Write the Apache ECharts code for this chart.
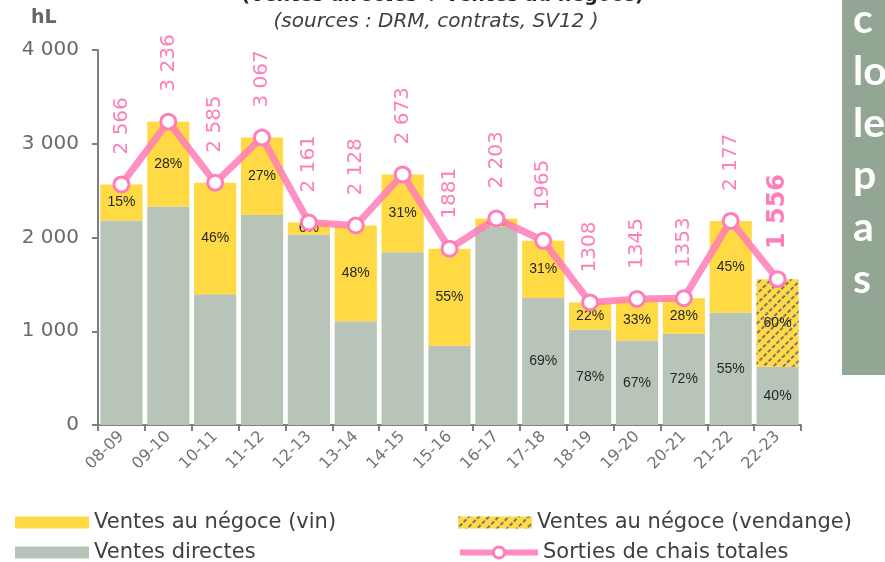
<!DOCTYPE html>
<html>
<head>
<meta charset="utf-8">
<script src="https://cdn.jsdelivr.net/npm/echarts@6/dist/echarts.min.js"></script>
<style>html,body{margin:0;padding:0;background:#fff;}#c{width:885px;height:562px;}</style>
</head>
<body>
<div id="c"></div>
<script>
const categories = ['08-09','09-10','10-11','11-12','12-13','13-14','14-15','15-16','16-17','17-18','18-19','19-20','20-21','21-22','22-23'];
const totals = [2566,3236,2585,3067,2161,2128,2673,1881,2203,1965,1308,1345,1353,2177,1556];
const totalLabels = ['2 566','3 236','2 585','3 067','2 161','2 128','2 673','1881','2 203','1965','1308','1345','1353','2 177','1 556'];
const directes = [2181,2330,1396,2239,2031,1107,1844,846,2115,1356,1020,901,974,1197,622];
const negoceVin = [385,906,1189,828,130,1021,829,1035,88,609,288,444,379,980,null];
const negoceVendange = [null,null,null,null,null,null,null,null,null,null,null,null,null,null,934];
const negocePct = ['15%','28%','46%','27%','6%','48%','31%','55%','4%','31%','22%','33%','28%','45%',''];
const vendangePct = ['','','','','','','','','','','','','','','60%'];
const directesPct = ['','','','','','','','','','69%','78%','67%','72%','55%','40%'];
const yTicks = ['0','1 000','2 000','3 000','4 000'];

const pink = '#FF7DB8';
const wide = 'DejaVu Sans, Verdana, sans-serif';
const pctLabel = (arr) => ({
  show: true, position: 'inside',
  fontFamily: 'Liberation Sans Narrow, Liberation Sans, sans-serif',
  fontSize: 14, color: '#262626',
  formatter: p => arr[p.dataIndex] || ''
});
const legendText = { fontSize: 21, color: '#404040', fontFamily: wide };

const chart = echarts.init(document.getElementById('c'));
chart.setOption({
  animation: false,
  textStyle: { fontFamily: wide },
  grid: { left: 98, right: 84, top: 50, bottom: 137, containLabel: false },
  xAxis: {
    type: 'category', data: categories,
    axisLine: { lineStyle: { color: '#7f7f7f', width: 2 } },
    axisTick: { show: true, length: 6, lineStyle: { color: '#7f7f7f', width: 2 } },
    axisLabel: { rotate: 45, fontSize: 16, color: '#737373', margin: 9, fontFamily: wide }
  },
  yAxis: {
    type: 'value', min: 0, max: 4000, interval: 1000,
    axisLine: { show: true, lineStyle: { color: '#7f7f7f', width: 2 } },
    axisTick: { show: true, length: 6, lineStyle: { color: '#7f7f7f', width: 2 } },
    splitLine: { show: false },
    axisLabel: { fontSize: 20, color: '#6a6a6a', margin: 19, fontFamily: wide, formatter: (v) => yTicks[Math.round(v/1000)] }
  },
  legend: [
    { data: ['Ventes au négoce (vin)'], icon: 'rect', left: 10, top: 507, itemWidth: 74, itemHeight: 12, itemGap: 8, textStyle: legendText },
    { data: ['Ventes au négoce (vendange)'], icon: 'rect', left: 453, top: 507, itemWidth: 74, itemHeight: 12, textStyle: legendText },
    { data: ['Ventes directes'], icon: 'rect', left: 10, top: 537, itemWidth: 74, itemHeight: 12, textStyle: legendText },
    { data: ['Sorties de chais totales'], left: 452, top: 537, itemWidth: 78, itemHeight: 14, textStyle: legendText,
      lineStyle: { width: 6, color: pink, opacity: 0.9 }, itemStyle: { color: '#ffffff', borderColor: pink, borderWidth: 3 } }
  ],
  series: [
    { name: 'Ventes directes', type: 'bar', stack: 's', data: directes, barCategoryGap: '10%',
      itemStyle: { color: '#B9C4B8' }, label: pctLabel(directesPct) },
    { name: 'Ventes au négoce (vin)', type: 'bar', stack: 's', data: negoceVin,
      itemStyle: { color: '#FFDA45' }, label: pctLabel(negocePct) },
    { name: 'Ventes au négoce (vendange)', type: 'bar', stack: 's', data: negoceVendange,
      itemStyle: { color: '#FFDA45', decal: { symbol: 'rect', color: 'rgba(100,100,125,0.85)', dashArrayX: [[4,2]], dashArrayY: [1.6,5], rotation: -Math.PI/4 } },
      label: pctLabel(vendangePct) },
    { name: 'Sorties de chais totales', type: 'line', data: totals.map((v,i)=> i===14 ? { value: v, label: { fontSize: 24, fontWeight: 'bold' } } : v),
      z: 5,
      lineStyle: { color: pink, width: 7, opacity: 0.85 },
      itemStyle: { color: '#ffffff', borderColor: pink, borderWidth: 3 },
      symbol: 'circle', symbolSize: 15,
      label: { show: true, position: 'top', distance: 21, rotate: 90, align: 'left', verticalAlign: 'middle',
        color: pink, fontSize: 20, fontWeight: 'normal', fontFamily: wide,
        formatter: p => totalLabels[p.dataIndex] }
    }
  ],
  graphic: [
    { type: 'text', left: 'center', top: -13, style: { text: '(Ventes directes + ventes au négoce)', font: 'bold 19px ' + wide, fill: '#262626' } },
    { type: 'text', style: { text: '(sources : DRM, contrats, SV12 )', x: 436, y: 22, align: 'center', verticalAlign: 'middle', font: 'italic 20px ' + wide, fill: '#404040' } },
    { type: 'text', style: { text: 'hL', x: 31, y: 18, verticalAlign: 'middle', font: 'bold 19px ' + wide, fill: '#666666' } },
    { type: 'rect', shape: { x: 842, y: 0, width: 50, height: 375 }, style: { fill: '#93A593' } },
    { type: 'text', style: { text: 'c\nlo\nle\np\na\ns', x: 853, y: -6, lineHeight: 52, font: 'bold 41px Lato, sans-serif', fill: '#ffffff' } }
  ]
});
</script>
</body>
</html>
